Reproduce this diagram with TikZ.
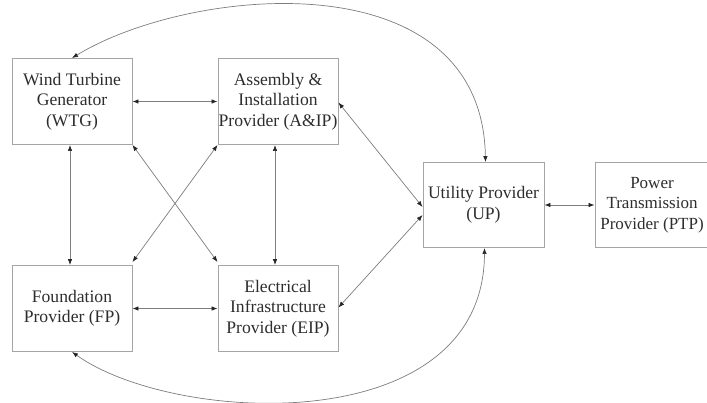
\documentclass[tikz,border=0pt]{standalone}
\usepackage{fontspec}
\setmainfont{Liberation Serif}
\usetikzlibrary{arrows.meta}
\definecolor{boxgray}{RGB}{165,165,165}
\definecolor{linegray}{RGB}{125,125,125}
\definecolor{txtgray}{RGB}{45,45,45}
\tikzset{
  blk/.style={draw=boxgray, line width=0.9pt, minimum width=120pt, minimum height=86pt,
    inner sep=0pt, align=center, text=txtgray,
    font=\fontsize{17.6pt}{20.5pt}\selectfont},
  conn/.style={draw=linegray, line width=0.7pt,
    {Latex[length=6pt,width=4.5pt,color=black!85]}-{Latex[length=6pt,width=4.5pt,color=black!85]}}
}
\begin{document}
\begin{tikzpicture}[x=1pt,y=-1pt]
\useasboundingbox (0,0) rectangle (707,402);
\node[blk] (wtg) at (72,101.5) {Wind Turbine\\Generator\\(WTG)};
\node[blk] (aip) at (278,101.5) {Assembly \&\\Installation\\Provider (A\&IP)};
\node[blk] (fp)  at (72,308.5) {Foundation\\Provider (FP)};
\node[blk] (eip) at (278,308.5) {Electrical\\Infrastructure\\Provider (EIP)};
\node[blk, minimum width=121pt, minimum height=85pt] (up) at (483.5,205) {Utility Provider\\(UP)};
\node[blk, minimum width=114pt, minimum height=85pt, font=\fontsize{17pt}{20.5pt}\selectfont] (ptp) at (652,205) {Power\\Transmission\\Provider (PTP)};

\draw[conn] (wtg.east) -- (aip.west);
\draw[conn] ([xshift=-2pt]wtg.south) -- ([xshift=-2pt]fp.north);
\draw[conn] ([xshift=-3pt]aip.south) -- ([xshift=-3pt]eip.north);
\draw[conn] (wtg.south east) -- ([yshift=3pt]eip.north west);
\draw[conn] (aip.south west) -- ([yshift=3pt]fp.north east);
\draw[conn] (fp.east) -- (eip.west);
\draw[conn] ([yshift=-1pt]aip.east) -- ([yshift=-2pt]up.west);
\draw[conn] ([yshift=1pt]eip.east) -- ([yshift=-10pt]up.west);
\draw[conn] (up.east) -- (ptp.west);
\draw[conn] ([xshift=2pt]up.north) .. controls (482,-42) and (190,-14) .. (wtg.north);
\draw[conn] (fp.south) .. controls (175,425) and (484,440) .. ([xshift=1pt]up.south);
\end{tikzpicture}
\end{document}
